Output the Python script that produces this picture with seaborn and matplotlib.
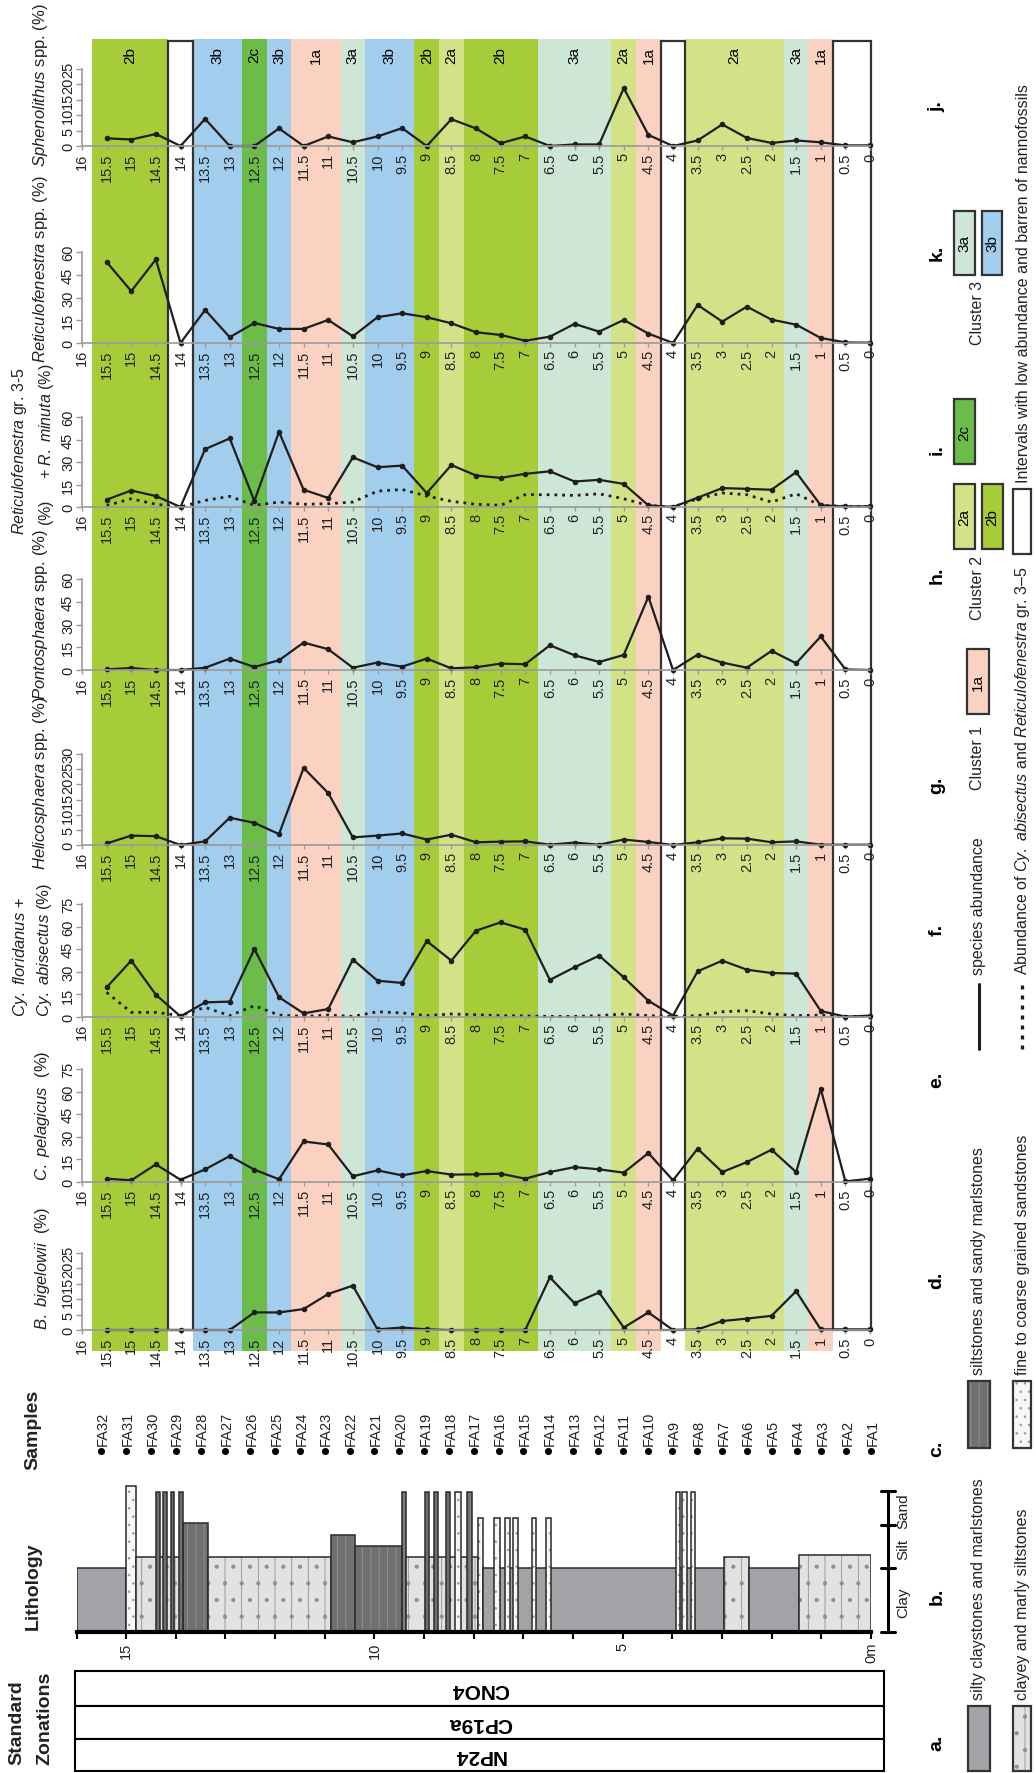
import numpy as np
import matplotlib
matplotlib.use("Agg")
import matplotlib.pyplot as plt
import seaborn as sns
from matplotlib.patches import Rectangle

sns.set_theme(style="white")
plt.rcParams["font.family"] = ["Liberation Sans", "DejaVu Sans"]
plt.rcParams["mathtext.fontset"] = "custom"
plt.rcParams["mathtext.rm"] = "Liberation Sans"
plt.rcParams["mathtext.it"] = "Liberation Sans:italic"
plt.rcParams["mathtext.bf"] = "Liberation Sans:bold"
plt.rcParams["hatch.linewidth"] = 0.6

# -------- data (sample heights in m, abundances in %) --------
heights = [15.5, 15, 14.5, 14, 13.5, 13, 12.5, 12, 11.5, 11, 10.5, 10, 9.5, 9, 8.5, 8,
           7.5, 7, 6.5, 6, 5.5, 5, 4.5, 4, 3.5, 3, 2.5, 2, 1.5, 1, 0.5, 0]
sample_names = ["FA32", "FA31", "FA30", "FA29", "FA28", "FA27", "FA26", "FA25", "FA24", "FA23",
                "FA22", "FA21", "FA20", "FA19", "FA18", "FA17", "FA16", "FA15", "FA14", "FA13",
                "FA12", "FA11", "FA10", "FA9", "FA8", "FA7", "FA6", "FA5", "FA4", "FA3", "FA2", "FA1"]

sphenolithus = [2.5, 2.1, 3.9, 0, 8.8, 0, 0, 5.7, 0, 3.1, 1.2, 3.1, 5.8, 0, 8.7, 5.7,
                0.9, 3.1, 0, 0.5, 0.5, 18.8, 3.6, 0, 1.8, 7.0, 2.6, 1.0, 1.8, 1.2, 0.2, 0.2]
reticulofenestra = [53.4, 34.2, 55.1, 0, 21.8, 3.8, 13.2, 9.3, 9.3, 15.2, 4.4, 17.0, 19.6, 17.0, 13.0, 7.1,
                    5.3, 1.5, 4.2, 12.6, 7.5, 15.2, 6.2, 0, 25.1, 14.1, 24.0, 15.4, 12.1, 3.3, 0.4, 0.2]
retic_gr35_minuta = [4.9, 11.0, 7.3, 0, 38.6, 45.7, 4.0, 50.1, 11.5, 6.0, 33.1, 26.5, 27.6, 9.3, 28.0, 21.0,
                     19.4, 22.1, 23.8, 17.0, 18.1, 15.4, 1.1, 0, 6.2, 12.6, 12.1, 11.5, 23.2, 1.1, 0.4, 0.4]
retic_gr35 = [1.0, 5.5, 1.8, 0, 4.4, 7.1, 1.1, 3.3, 1.8, 2.2, 3.3, 10.6, 11.7, 7.3, 3.8, 1.8,
              1.1, 8.2, 8.2, 7.7, 8.8, 5.5, 1.0, 0, 5.5, 9.3, 8.2, 3.3, 8.8, 1.1, 0.4, 0.4]
pontosphaera = [0.4, 1.3, 0, 0, 1.5, 7.5, 2.0, 6.4, 18.1, 13.7, 1.5, 4.9, 2.2, 7.5, 1.1, 1.8,
                4.2, 3.8, 16.3, 9.7, 5.3, 9.9, 48.3, 0, 10.1, 4.9, 1.5, 12.6, 4.4, 22.1, 0.4, 0]
helicosphaera = [0.5, 3.1, 2.9, 0, 1.2, 9.0, 7.3, 3.6, 25.4, 17.1, 2.5, 3.1, 3.8, 1.8, 3.4, 0.9,
                 1.1, 1.2, 0.1, 0.8, 0.1, 1.8, 1.0, 0, 0.9, 2.2, 2.1, 0.9, 1.2, 0.1, 0.1, 0.1]
cyclicargolithus = [19.7, 37.4, 14.8, 0.4, 9.7, 10.2, 45.1, 13.1, 2.4, 5.3, 38.1, 24.1, 22.6, 50.4, 37.4, 57.3,
                    62.8, 58.0, 24.6, 33.0, 40.7, 26.3, 10.8, 0.9, 30.3, 37.4, 31.4, 29.2, 28.8, 4.0, 0.2, 0.9]
cy_abisectus = [16.4, 3.1, 3.1, 0.9, 6.4, 0.9, 7.5, 1.3, 0.4, 1.3, 0.4, 3.5, 2.7, 0.9, 2.0, 1.5,
                0.9, 0.7, 0.4, 0.4, 0.9, 2.0, 0.9, 0.4, 0.9, 3.5, 4.2, 2.0, 0.9, 1.3, 0.4, 0.4]
c_pelagicus = [2.2, 1.1, 11.7, 1.5, 8.4, 17.2, 8.2, 1.8, 26.9, 24.9, 3.8, 7.7, 4.4, 7.3, 4.9, 5.1,
               5.5, 2.2, 6.6, 9.9, 8.4, 6.2, 19.2, 1.1, 22.1, 6.6, 13.2, 21.4, 6.6, 61.8, 0.4, 2.2]
b_bigelowii = [0, 0, 0, 0, 0, 0, 5.7, 5.7, 6.8, 11.7, 14.4, 0.2, 0.8, 0.2, 0, 0,
               0, 0, 17.1, 8.7, 12.2, 0.8, 5.7, 0, 0.2, 2.9, 3.7, 4.6, 12.6, 0.2, 0.2, 0.2]

# cluster intervals (m)
band_top = [15.8, 14.25, 13.75, 12.75, 12.25, 11.75, 10.75, 10.25, 9.25, 8.75,
            8.25, 6.75, 5.25, 4.75, 4.25, 3.75, 1.75, 1.25, 0.75]
band_bottom = [14.25, 13.75, 12.75, 12.25, 11.75, 10.75, 10.25, 9.25, 8.75, 8.25,
               6.75, 5.25, 4.75, 4.25, 3.75, 1.75, 1.25, 0.75, -0.02]
band_cluster = ["2b", "barren", "3b", "2c", "3b", "1a", "3a", "3b", "2b", "2a",
                "2b", "3a", "2a", "1a", "barren", "2a", "3a", "1a", "barren"]

# lithology intervals (m) and relative grain-size width
lith_bottom = [15.0, 14.8, 13.86, 13.35, 10.88, 10.39, 9.44, 9.37, 7.92, 7.82, 2.96, 2.46, 1.46, 0.0,
               14.32, 14.18, 14.03, 13.86, 8.91, 8.72, 8.48, 8.26, 8.04,
               7.48, 7.28, 7.11, 6.75, 6.45, 3.85, 3.71, 3.54]
lith_top = [16.0, 15.0, 14.8, 13.86, 13.35, 10.88, 10.39, 9.44, 9.37, 7.92, 7.82, 2.96, 2.46, 1.46,
            14.40, 14.25, 14.10, 13.93, 8.98, 8.80, 8.55, 8.37, 8.13,
            7.59, 7.37, 7.21, 6.83, 6.55, 3.92, 3.80, 3.63]
lith_type = ["clay", "sand", "csilt", "silt", "csilt", "silt", "silt", "silt", "csilt", "sand", "clay", "csilt", "clay", "csilt",
             "silt", "silt", "silt", "silt", "silt", "silt", "silt", "sand", "silt",
             "sand", "sand", "sand", "sand", "sand", "sand", "sand", "sand"]
lith_grain = [0.454, 1.033, 0.53, 0.771, 0.53, 0.69, 0.612, 0.99, 0.53, 0.81, 0.454, 0.53, 0.454, 0.545,
              0.99, 0.99, 0.99, 0.99, 0.99, 0.99, 0.99, 0.99, 0.99,
              0.81, 0.81, 0.81, 0.81, 0.81, 0.99, 0.99, 0.99]

zonations = ["CNO4", "CP19a", "NP24"]
grain_classes = ["Clay", "Silt", "Sand"]

# -------- styling --------
cluster_colors = {"1a": "#fbd2c2", "2a": "#d4e287", "2b": "#a6cd39", "2c": "#6cbc4a",
                  "3a": "#cde6d6", "3b": "#a3cdec"}
lith_style = {"clay": ("#a3a3a7", None, "#a3a3a7"),
              "csilt": ("#e2e2e2", "|.", "#8f8f8f"),
              "silt": ("#707070", "||", "#949494"),
              "sand": ("#f7f7f7", "..", "#9a9a9a")}
LINE = "#1e1e1e"
AXG = "#9a9a9a"
TXT = "#222222"

W, H = 1036, 1774
fig = plt.figure(figsize=(W / 100, H / 100), dpi=100)


def px_axes(x0, y0, x1, y1):
    return fig.add_axes([x0 / W, 1 - y1 / H, (x1 - x0) / W, (y1 - y0) / H])


def vtext(ax, x, y, s, size=12, weight="normal", ha="left", **kw):
    ax.text(x, y, s, rotation=90, rotation_mode="anchor", ha=ha, va="center",
            fontsize=size, fontweight=weight, color=TXT, **kw)


# overlay in pixel coordinates for labels/legend
ov = px_axes(0, 0, W, H)
ov.set_xlim(0, W)
ov.set_ylim(H, 0)
ov.axis("off")

# -------- cluster bands --------
PX0, PX1 = 82, 870
bg = px_axes(PX0, 40, PX1, 1352)
bg.set_xlim(16, 0)
bg.set_ylim(1352, 40)
bg.axis("off")
for lo, hi, cid in zip(band_bottom, band_top, band_cluster):
    if cid == "barren":
        bg.add_patch(Rectangle((lo, 42), hi - lo, 1331 - 42, facecolor="white",
                               edgecolor="#333333", lw=1.6, clip_on=False, zorder=3))
    else:
        bg.axvspan(lo, hi, color=cluster_colors[cid], lw=0)
        bg.text((lo + hi) / 2, 47, cid, rotation=90, ha="center", va="top", fontsize=11, color="black")

# -------- abundance panels --------
panels = [
    (sphenolithus, None, 147, 70, 25, 5),
    (reticulofenestra, None, 344, 253, 60, 15),
    (retic_gr35_minuta, retic_gr35, 508, 418, 60, 15),
    (pontosphaera, None, 671, 580, 60, 15),
    (helicosphaera, None, 846, 755, 30, 5),
    (cyclicargolithus, cy_abisectus, 1018, 905, 75, 15),
    (c_pelagicus, None, 1183, 1070, 75, 15),
    (b_bigelowii, None, 1331, 1254, 25, 5),
]
for vals, dotted, base, top, vmax, step in panels:
    ax = px_axes(PX0, top, PX1, base)
    ax.patch.set_alpha(0)
    if dotted is not None:
        sns.lineplot(x=heights, y=dotted, ax=ax, color=LINE, lw=2.0, linestyle=(0, (1.0, 1.8)),
                     sort=False, estimator=None, clip_on=False)
    sns.lineplot(x=heights, y=vals, ax=ax, color=LINE, lw=1.6, marker="o", markersize=4,
                 markeredgewidth=0, sort=False, estimator=None, clip_on=False)
    ax.set_xlim(16, 0)
    ax.set_ylim(0, vmax)
    for s in ["top", "right"]:
        ax.spines[s].set_visible(False)
    for s in ["left", "bottom"]:
        ax.spines[s].set_color(AXG)
        ax.spines[s].set_linewidth(1.2)
    xt = np.arange(0, 16.01, 0.5)
    ax.set_xticks(xt)
    ax.set_xticklabels([f"{v:g}" for v in xt])
    ax.set_yticks(np.arange(0, vmax + 0.1, step))
    ax.tick_params(axis="x", bottom=True, direction="out", length=3, width=1, color=AXG,
                   labelsize=10.5, labelrotation=90, pad=1.5, labelcolor=TXT)
    ax.tick_params(axis="y", left=True, direction="out", length=4, width=1, color=AXG,
                   labelsize=10.5, labelrotation=90, pad=1, labelcolor=TXT)
    for t in ax.get_yticklabels():
        t.set_va("center")
    ax.set_xlabel("")
    ax.set_ylabel("")

# panel titles (vertical)
vtext(ov, 40, 167, r"$\mathit{Sphenolithus}$ spp. (%)")
vtext(ov, 40, 363, r"$\mathit{Reticulofenestra}$ spp. (%)")
vtext(ov, 20, 367, r"$\mathit{Reticulofenestra}$ gr. 3-5", ha="right", size=11.5)
vtext(ov, 46, 526, r"(%)     + $\mathit{R.\ minuta}$ (%)", size=11.5)
vtext(ov, 40, 700, r"$\mathit{Pontosphaera}$ spp. (%)")
vtext(ov, 40, 870, r"$\mathit{Helicosphaera}$ spp. (%)")
vtext(ov, 21, 1017, r"$\mathit{Cy.\ floridanus}$ +")
vtext(ov, 44, 1017, r"$\mathit{Cy.\ abisectus}$ (%)")
vtext(ov, 42, 1181, r"$\mathit{C.\ pelagicus}$  (%)")
vtext(ov, 42, 1330, r"$\mathit{B.\ bigelowii}$  (%)")

# -------- samples --------
LX0, LX1 = 76.5, 871
ax_s = px_axes(LX0, 1430, LX1, 1474)
ax_s.set_xlim(16, 0)
ax_s.set_ylim(-1, 1)
ax_s.axis("off")
sns.scatterplot(x=heights, y=[0] * len(heights), ax=ax_s, color="black", s=26,
                edgecolor=None, linewidth=0, clip_on=False, legend=False)
for hgt, name in zip(heights, sample_names):
    ax_s.annotate(name, (hgt, 0), xytext=(1, 4.5), textcoords="offset points", rotation=90,
                  ha="center", va="bottom", fontsize=10.5, color=TXT)

# -------- lithology --------
lith = px_axes(LX0, 1633 - 1.04 * 141, LX1, 1633)
lith.set_xlim(16, 0)
lith.set_ylim(0, 1.04)
lith.patch.set_alpha(0)
for lo, hi, kind, g in zip(lith_bottom, lith_top, lith_type, lith_grain):
    fc, hatch, hc = lith_style[kind]
    lith.bar((lo + hi) / 2, g, width=hi - lo, color=fc, edgecolor=hc, hatch=hatch, linewidth=0)
    lith.bar((lo + hi) / 2, g, width=hi - lo, fill=False, edgecolor="#2a2a2a", linewidth=1.1)
for s in ["top", "right", "left"]:
    lith.spines[s].set_visible(False)
lith.spines["bottom"].set_color("black")
lith.spines["bottom"].set_linewidth(3)
lith.set_xticks(np.arange(0, 17, 1))
lith.set_xticklabels(["0m" if v == 0 else (str(v) if v % 5 == 0 else "") for v in range(17)])
lith.set_yticks([])
lith.tick_params(axis="x", bottom=True, direction="out", length=5, width=1.5, color="black",
                 labelsize=10.5, labelrotation=90, pad=2, labelcolor=TXT)

# grain-size scale bar
gy = [1633, 1569, 1526, 1492]
ov.plot([888, 888], [gy[0], gy[-1]], color="black", lw=2.2)
for yy in gy:
    ov.plot([881, 895], [yy, yy], color="black", lw=2.2)
for lab, y0, y1 in zip(grain_classes, gy[:-1], gy[1:]):
    ov.text(903, (y0 + y1) / 2 + 2, lab, rotation=90, ha="center", va="center", fontsize=11, color=TXT)

# -------- standard zonations --------
zy = [1672, 1707, 1740, 1772]
for lab, y0, y1 in zip(zonations, zy[:-1], zy[1:]):
    ov.add_patch(Rectangle((75, y0), 884 - 75, y1 - y0, facecolor="white", edgecolor="black", lw=1.5))
    ov.text(480, (y0 + y1) / 2, lab, rotation=180, ha="center", va="center", fontsize=15,
            fontweight="bold", color="black")

# left headings
vtext(ov, 33, 1470, "Samples", size=14, weight="bold")
vtext(ov, 33, 1630, "Lithology", size=14, weight="bold")
vtext(ov, 17, 1765, "Standard", size=14, weight="bold")
vtext(ov, 45, 1765, "Zonations", size=14, weight="bold")

# -------- legend --------
letters = ["a.", "b.", "c.", "d.", "e.", "f.", "g.", "h.", "i.", "k.", "j."]
letter_y = [1743, 1596, 1449, 1280, 1080, 930, 785, 575, 450, 253, 107]
for lab, yy in zip(letters, letter_y):
    ov.text(937, yy, lab, rotation=90, ha="center", va="center", fontsize=14, fontweight="bold",
            color="black")


def legend_box(x0, x1, y0, y1, kind=None, color=None, label=None):
    if kind is not None:
        fc, hatch, hc = lith_style[kind]
        ov.add_patch(Rectangle((x0, y0), x1 - x0, y1 - y0, facecolor=fc, edgecolor=hc, hatch=hatch, lw=0))
        ov.add_patch(Rectangle((x0, y0), x1 - x0, y1 - y0, fill=False, edgecolor="#333333", lw=1.6))
    else:
        ov.add_patch(Rectangle((x0, y0), x1 - x0, y1 - y0, facecolor=color, edgecolor="#333333", lw=1.6))
    if label:
        ov.text((x0 + x1) / 2, (y0 + y1) / 2, label, rotation=90, ha="center", va="center",
                fontsize=11, color="black")


legend_box(968, 990, 1707, 1772, kind="clay")
vtext(ov, 979, 1700, "silty claystones and marlstones", size=11.5)
legend_box(1013, 1031, 1707, 1772, kind="csilt")
vtext(ov, 1022, 1700, "clayey and marly siltstones", size=11.5)
legend_box(968, 990, 1382, 1449, kind="silt")
vtext(ov, 979, 1375, "siltstones and sandy marlstones", size=11.5)
legend_box(1013, 1031, 1382, 1449, kind="sand")
vtext(ov, 1022, 1375, "fine to coarse grained sandstones", size=11.5)

ov.plot([979, 979], [1050, 985], color=LINE, lw=2.2)
vtext(ov, 979, 975, "species abundance", size=11.5)
ov.plot([1022, 1022], [1050, 985], color=LINE, lw=2.4, linestyle=(0, (1.2, 1.8)))
vtext(ov, 1022, 975, r"Abundance of $\mathit{Cy.\ abisectus}$ and $\mathit{Reticulofenestra}$ gr. 3–5",
      size=11.5)

legend_box(967, 989, 650, 715, color=cluster_colors["1a"], label="1a")
vtext(ov, 978, 790, "Cluster 1", size=11.5)
legend_box(954, 975, 400, 465, color=cluster_colors["2c"], label="2c")
legend_box(954, 975, 485, 550, color=cluster_colors["2a"], label="2a")
legend_box(982, 1003, 485, 550, color=cluster_colors["2b"], label="2b")
vtext(ov, 978, 620, "Cluster 2", size=11.5)
legend_box(954, 975, 212, 276, color=cluster_colors["3a"], label="3a")
legend_box(982, 1002, 212, 276, color=cluster_colors["3b"], label="3b")
vtext(ov, 978, 345, "Cluster 3", size=11.5)
legend_box(1013, 1031, 490, 555, color="white")
vtext(ov, 1024, 483, "Intervals with low abundance and barren of nannofossils", size=11.5)

fig.savefig("out.png", dpi=100)
